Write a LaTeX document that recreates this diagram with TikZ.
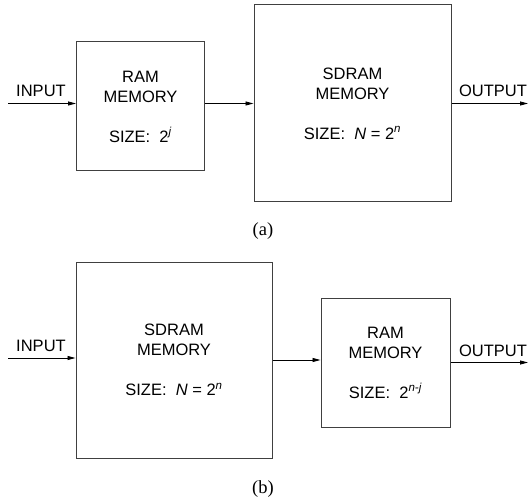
\documentclass[tikz,border=0pt]{standalone}
\usepackage{fontspec}
\setmainfont{Liberation Serif}
\setsansfont{Liberation Sans}
\usetikzlibrary{arrows.meta}
\tikzset{
mem box/.style={draw=black!75, line width=1pt, inner sep=0pt, align=center,
  font=\sffamily\fontsize{16.5}{20}\selectfont},
sig arrow/.style={line width=0.9pt, -{Triangle[length=8pt,width=4pt]}},
sig label/.style={anchor=base, inner sep=0pt, font=\sffamily\fontsize{16.5}{20}\selectfont},
}

\begin{document}
\begin{tikzpicture}[x=1pt,y=-1pt]
\useasboundingbox (0,0) rectangle (529,502);
% (a): RAM first
\node[mem box, minimum width=128pt, minimum height=129pt] (ramA) at (140.5,106.5) {RAM\\MEMORY\\[20pt]SIZE:\ \ 2\textsuperscript{\textit{j}}};
\node[mem box, minimum width=197pt, minimum height=197pt] (sdramA) at (352.5,103.5) {SDRAM\\MEMORY\\[20pt]SIZE:\ \ \textit{N} = 2\textsuperscript{\textit{n}}};
\coordinate (inA) at (8,103.5);
\coordinate (outA) at (528,103.5);
\node[sig label] (inLblA) at (41,97) {INPUT};
\node[sig label] (outLblA) at (493,97) {OUTPUT};
\node[font=\fontsize{18.5}{20}\selectfont] (capA) at (263,231) {(a)};

\draw[sig arrow] (inA) -- (inA -| ramA.west);
\draw[sig arrow] (ramA.east |- sdramA.west) -- (sdramA.west);
\draw[sig arrow] (sdramA.east) -- (outA);

% (b): SDRAM first
\node[mem box, minimum width=196pt, minimum height=196pt] (sdramB) at (174,360) {SDRAM\\MEMORY\\[20pt]SIZE:\ \ \textit{N} = 2\textsuperscript{\textit{n}}};
\node[mem box, minimum width=129pt, minimum height=129pt] (ramB) at (385.5,362.5) {RAM\\MEMORY\\[20pt]SIZE:\ \ 2\textsuperscript{\textit{n-j}}};
\coordinate (inB) at (8,358);
\coordinate (outB) at (528,362.5);
\node[sig label] (inLblB) at (41,351) {INPUT};
\node[sig label] (outLblB) at (493,356) {OUTPUT};
\node[font=\fontsize{18.5}{20}\selectfont] (capB) at (263,489) {(b)};

\draw[sig arrow] (inB) -- (inB -| sdramB.west);
\draw[sig arrow] (sdramB.east) -- (ramB.west |- sdramB.east);
\draw[sig arrow] (ramB.east) -- (outB);
\end{tikzpicture}
\end{document}
